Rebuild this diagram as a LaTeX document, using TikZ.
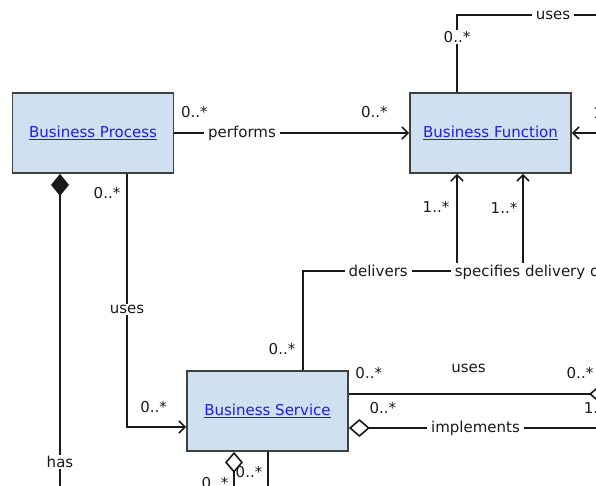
\documentclass[tikz,border=0pt]{standalone}
\usepackage{fontspec}
\setmainfont{DejaVu Sans}
\usepackage{tikz}
\usetikzlibrary{arrows.meta}
\definecolor{boxfill}{RGB}{207,224,241}
\definecolor{boxline}{RGB}{64,64,64}
\definecolor{linkblue}{RGB}{30,30,235}
\definecolor{ink}{RGB}{26,26,26}

\begin{document}
\begin{tikzpicture}[x=1pt,y=-1pt,font=\fontsize{15}{18}\selectfont,
    entity/.style={draw=boxline,fill=boxfill,line width=1.8pt,minimum width=161pt,
      minimum height=80pt,inner sep=0pt,text=linkblue},
    wire/.style={draw=ink,line width=1.6pt},
    conn/.style={wire,-{Straight Barb[length=6pt,width=12pt]}},
    odia/.tip={Diamond[open,length=21pt,width=18pt]},
    fdia/.tip={Diamond[length=22pt,width=18pt]},
    lbl/.style={fill=white,inner xsep=4pt,inner ysep=1.5pt,text=ink},
    txt/.style={inner sep=1pt,text=ink}]
    \useasboundingbox (0,0) rectangle (596,486);
    \clip (0,0) rectangle (596,486);
    % boxes
    \node[entity] (bp) at (93,133) {\underline{Business Process}};
    \node[entity] (bf) at (490.5,133) {\underline{Business Function}};
    \node[entity] (bs) at (267.5,411) {\underline{Business Service}};
    % where the lines leave the boxes
    \coordinate (bft) at ([xshift=-33.5pt]bf.north);
    \coordinate (bfs1) at ([xshift=-33.5pt]bf.south);
    \coordinate (bfs2) at ([xshift=32.5pt]bf.south);
    \coordinate (bpl) at ([xshift=-33pt]bp.south);
    \coordinate (bpr) at ([xshift=34pt]bp.south);
    \coordinate (bsw) at ([yshift=-16pt]bs.west);
    \coordinate (bsn) at ([xshift=35.5pt]bs.north);
    \coordinate (bsu) at ([yshift=17pt]bs.east);
    \coordinate (bsi) at ([yshift=-17pt]bs.east);
    \coordinate (bsd) at ([xshift=-33.5pt]bs.south);
    \coordinate (bsb) at ([xshift=0.5pt]bs.south);
    % loose ends past the edge
    \coordinate (topend) at (600,15);
    \coordinate (rightend) at (600,133);
    \coordinate (specend) at (600,272);
    \coordinate (useend) at (610,394);
    \coordinate (implend) at (600,428);
    \coordinate (hasend) at (60,490);
    \coordinate (botend1) at (234,490);
    \coordinate (botend2) at (268,490);

    \draw[conn] (bp.east) -- (bf.west)
      node[lbl,pos=0.288] (perf) {performs}
      node[txt,pos=0.085,yshift=21pt] (perfa) {0..*}
      node[txt,pos=0.852,yshift=21pt] (perfb) {0..*};
    \draw[wire] (bft) |- (topend)
      node[lbl,pos=0.359] (usetopm) {0..*}
      node[lbl,pos=0.836] (usetop) {uses};
    \draw[conn] (rightend) -- (bf.east)
      node[txt,pos=0.31,anchor=west,yshift=20pt] (rightm) {1..*};
    \draw[conn] (bpr) |- (bsw)
      node[lbl,pos=0.268] (usebs) {uses}
      node[txt,pos=0.037,xshift=-20pt] (usebsa) {0..*}
      node[txt,pos=0.725,yshift=20pt] (usebsb) {0..*};
    \draw[wire,{fdia}-] (bpl) -- (hasend)
      node[lbl,pos=0.912] (has) {has};
    \draw[conn] (bsn) -- node[txt,pos=0.21,xshift=-21pt] (delma) {0..*} ++(0,-99) -| (bfs1)
      node[lbl,pos=0.244] (deliv) {delivers}
      node[txt,pos=0.828,xshift=-21pt] (delmb) {1..*};
    \draw[conn] (specend) -| (bfs2)
      node[lbl,pos=0.5,anchor=west,xshift=-73pt] (spec) {specifies delivery of}
      node[txt,pos=0.828,xshift=-19pt] (specm) {1..*};
    \draw[wire,-{odia}] (bsu) -- (useend)
      node[txt,pos=0.458,yshift=26pt] (useright) {uses}
      node[txt,pos=0.076,yshift=21pt] (userighta) {0..*}
      node[txt,pos=0.885,yshift=21pt] (userightb) {0..*}
      node[txt,pos=0.893,anchor=west,yshift=-14pt] (userightc) {1..*};
    \draw[wire,{odia}-] (bsi) -- (implend)
      node[lbl,pos=0.504] (impl) {implements}
      node[txt,pos=0.135,yshift=20pt] (implm) {0..*};
    \draw[wire,{odia}-] (bsd) -- (botend1)
      node[txt,pos=0.54,xshift=15pt] (bota) {0..*}
      node[txt,pos=0.82,xshift=-19pt] (botb) {0..*};
    \draw[wire] (bsb) -- (botend2);
\end{tikzpicture}
\end{document}
